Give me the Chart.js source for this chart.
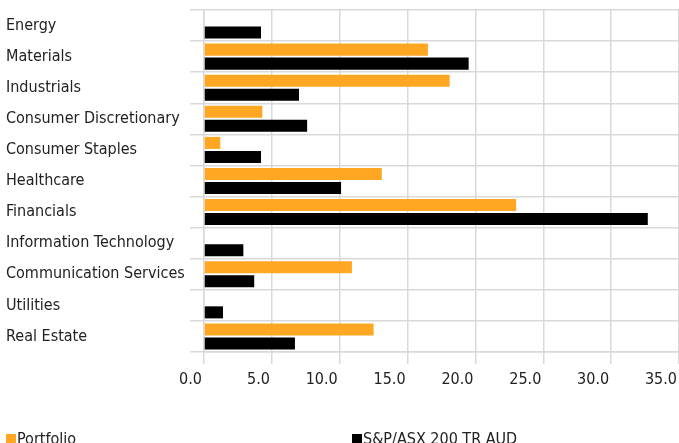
<!DOCTYPE html>
<html>
<head>
<meta charset="utf-8">
<script src="https://cdn.jsdelivr.net/npm/chart.js@4.4.1/dist/chart.umd.min.js"></script>
<style>
    html, body { margin: 0; padding: 0; background: #fff; overflow: hidden; }
    #wrap { position: relative; width: 679px; height: 443px; }
    .legend-item {
        position: absolute; top: 429px;
        font-family: "Liberation Sans Narrow", "DejaVu Sans Condensed", sans-serif;
        font-size: 16px; line-height: 20px; color: #222; white-space: nowrap;
    }
    .legend-item i { display: inline-block; width: 10px; height: 10px; margin-right: 1px; }
</style>
</head>
<body>
<div id="wrap">
    <canvas id="sectorChart" width="679" height="443"></canvas>
    <div class="legend-item" style="left:6px"><i style="background:#ffa722"></i>Portfolio</div>
    <div class="legend-item" style="left:352px"><i style="background:#000"></i>S&amp;P/ASX 200 TR AUD</div>
</div>
<script>
// Sector weightings (%)
const sectors = ['Energy', 'Materials', 'Industrials', 'Consumer Discretionary', 'Consumer Staples',
    'Healthcare', 'Financials', 'Information Technology', 'Communication Services', 'Utilities', 'Real Estate'];
const portfolio = [0, 16.5, 18.1, 4.3, 1.2, 13.1, 23.0, 0, 10.9, 0, 12.5];
const benchmark = [4.2, 19.5, 7.0, 7.6, 4.2, 10.1, 32.7, 2.9, 3.7, 1.4, 6.7];
const xTicks = [0, 5, 10, 15, 20, 25, 30, 35];

const fontFamily = '"Liberation Sans Narrow", "DejaVu Sans Condensed", sans-serif';
const gridColor = '#d9d9d9';

new Chart(document.getElementById('sectorChart'), {
    type: 'bar',
    data: {
        labels: sectors,
        datasets: [
            { label: 'Portfolio', data: portfolio, backgroundColor: '#ffa722' },
            { label: 'S&P/ASX 200 TR AUD', data: benchmark, backgroundColor: '#000000' }
        ]
    },
    options: {
        indexAxis: 'y',
        responsive: false,
        animation: false,
        categoryPercentage: 0.9,
        barPercentage: 0.86,
        layout: { autoPadding: false, padding: { left: 6, top: 10, right: 0, bottom: 0 } },
        plugins: {
            legend: { display: false },
            tooltip: { enabled: false }
        },
        scales: {
            y: {
                grid: { color: gridColor, lineWidth: 1.5, tickLength: 14, offset: true },
                border: { color: gridColor, width: 1.5 },
                ticks: {
                    crossAlign: 'far',
                    color: '#222',
                    font: { family: fontFamily, size: 16 }
                },
                afterFit: (scale) => {
                    scale.width = 198;
                    scale.paddingTop = 0;
                    scale.paddingBottom = 0;
                }
            },
            x: {
                min: xTicks[0],
                max: xTicks[xTicks.length - 1],
                afterBuildTicks: (scale) => { scale.ticks = xTicks.map(v => ({ value: v })); },
                grid: { color: gridColor, lineWidth: 1.5, tickLength: 12 },
                border: { color: gridColor, width: 1.5 },
                ticks: {
                    color: '#222',
                    padding: 6,
                    align: 'end',
                    labelOffset: -2,
                    maxRotation: 0,
                    font: { family: fontFamily, size: 16 },
                    callback: (v) => Number(v).toFixed(1)
                },
                afterFit: (scale) => {
                    // keep the plot running right to the edge like the original
                    scale.height = 91;
                    scale.paddingLeft = 0;
                    scale.paddingRight = 0;
                }
            }
        }
    }
});
</script>
</body>
</html>
